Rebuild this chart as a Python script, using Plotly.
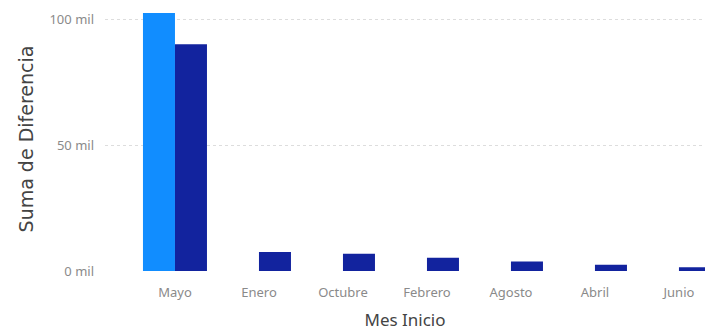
import plotly.graph_objects as go

meses = ["Mayo", "Enero", "Octubre", "Febrero", "Agosto", "Abril", "Junio"]
serie_a = [102600, 0, 0, 0, 0, 0, 0]
serie_b = [90200, 7600, 6900, 5300, 3800, 2500, 1500]
y_ticks = [0, 50000, 100000]
y_tick_text = ["0 mil", "50 mil", "100 mil"]

fig = go.Figure()
fig.add_trace(go.Bar(x=meses, y=serie_a, name="Serie A", marker_color="#118DFF", marker_line_width=0))
fig.add_trace(go.Bar(x=meses, y=serie_b, name="Serie B", marker_color="#12239E", marker_line_width=0))

fig.update_layout(
    width=705, height=332,
    margin=dict(l=105, r=0, t=7, b=61),
    barmode="group", bargap=0.238, bargroupgap=0,
    showlegend=False,
    plot_bgcolor="white", paper_bgcolor="white",
    font=dict(family="Noto Sans", color="#777777", size=13),
)
fig.update_xaxes(
    range=[-0.833, 6.31], showgrid=False, zeroline=False, showline=False,
    ticks="", ticklabelstandoff=12,
    tickfont=dict(size=13, color="#8a8a8a"),
    title=dict(text="Mes Inicio", font=dict(size=17, color="#444444"), standoff=14),
)
fig.update_yaxes(
    range=[0, 105000], tickvals=y_ticks, ticktext=y_tick_text,
    showgrid=True, gridcolor="#dddddd", griddash="dot", gridwidth=1,
    zeroline=False, showline=False, ticks="", ticklabelstandoff=10,
    tickfont=dict(size=13, color="#8a8a8a"),
    title=dict(text="Suma de Diferencia", font=dict(family="DejaVu Sans", size=19, color="#444444"), standoff=10),
)

fig.write_html("out.html")
